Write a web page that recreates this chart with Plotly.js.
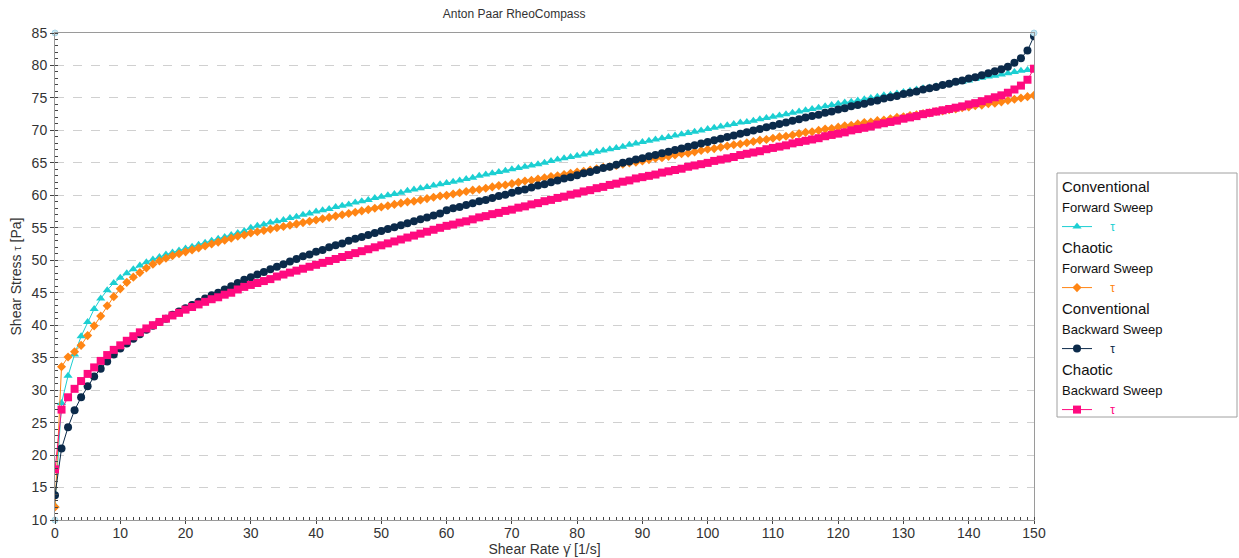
<!DOCTYPE html>
<html>
<head>
<meta charset="utf-8">
<script src="https://cdn.plot.ly/plotly-3.0.1.min.js"></script>
<style>html,body{margin:0;padding:0;background:#fff;}#chart{width:1239px;height:558px;}</style>
</head>
<body>
<div id="chart"></div>
<script>
// Shear rate (1/s), one point per unit from 0 to 150
const shearRate = [];
for (let i = 0; i <= 150; i++) shearRate.push(i);

const convForward = [
12.2,28.0,32.2,35.5,38.3,40.5,42.5,44.1,45.4,46.5,47.3,
48.0,48.6,49.2,49.7,50.1,50.5,50.9,51.2,51.5,51.8,
52.1,52.4,52.7,53.0,53.3,53.6,53.9,54.2,54.5,55.0,
55.3,55.5,55.8,56.0,56.2,56.5,56.7,57.0,57.2,57.5,
57.7,57.9,58.2,58.4,58.6,58.9,59.1,59.3,59.6,59.8,
60.0,60.2,60.4,60.7,60.9,61.1,61.3,61.5,61.7,61.9,
62.1,62.3,62.5,62.7,63.0,63.2,63.4,63.6,63.8,64.0,
64.2,64.4,64.6,64.8,65.0,65.3,65.5,65.7,65.9,66.1,
66.3,66.5,66.7,66.9,67.1,67.3,67.5,67.8,68.0,68.2,
68.4,68.6,68.8,69.0,69.2,69.4,69.6,69.8,70.0,70.2,
70.4,70.6,70.8,71.0,71.2,71.3,71.5,71.7,71.9,72.1,
72.3,72.5,72.7,72.9,73.1,73.3,73.5,73.7,73.9,74.1,
74.3,74.4,74.6,74.8,75.0,75.2,75.4,75.5,75.7,75.9,
76.1,76.3,76.5,76.6,76.8,77.0,77.2,77.4,77.5,77.7,
77.9,78.1,78.3,78.4,78.6,78.8,79.0,79.2,79.3,79.5];

const chaoForward = [
12.0,33.6,35.1,35.9,36.9,38.4,39.9,41.4,43.0,44.4,45.6,
46.6,47.4,48.1,48.8,49.4,49.9,50.3,50.7,51.0,51.3,
51.6,51.9,52.2,52.5,52.8,53.1,53.4,53.7,53.9,54.2,
54.4,54.6,54.8,55.0,55.2,55.4,55.6,55.8,56.0,56.2,
56.4,56.6,56.8,57.0,57.2,57.4,57.6,57.8,58.0,58.2,
58.4,58.6,58.8,59.0,59.1,59.3,59.5,59.7,59.9,60.0,
60.2,60.4,60.6,60.8,60.9,61.1,61.3,61.5,61.6,61.8,
62.0,62.2,62.3,62.5,62.7,62.9,63.0,63.2,63.4,63.6,
63.7,63.9,64.1,64.3,64.4,64.6,64.8,65.0,65.1,65.3,
65.5,65.7,65.8,66.0,66.2,66.4,66.5,66.7,66.9,67.1,
67.2,67.4,67.6,67.8,67.9,68.1,68.3,68.5,68.6,68.8,
69.0,69.1,69.3,69.5,69.7,69.8,70.0,70.2,70.3,70.5,
70.7,70.8,71.0,71.2,71.3,71.5,71.6,71.8,72.0,72.1,
72.3,72.4,72.6,72.7,72.9,73.0,73.2,73.3,73.5,73.6,
73.8,73.9,74.1,74.2,74.4,74.6,74.8,75.0,75.2,75.4];

const convBackward = [
13.8,21.0,24.3,26.9,28.9,30.6,32.1,33.3,34.4,35.5,36.4,
37.2,37.9,38.6,39.3,39.9,40.5,41.0,41.6,42.1,42.6,
43.1,43.6,44.1,44.6,45.0,45.5,46.0,46.5,47.0,47.4,
47.8,48.2,48.6,49.0,49.4,49.8,50.2,50.6,50.9,51.3,
51.6,52.0,52.3,52.6,53.0,53.3,53.6,53.9,54.2,54.5,
54.8,55.1,55.4,55.7,56.0,56.3,56.6,56.9,57.2,57.7,
58.0,58.2,58.5,58.8,59.1,59.3,59.6,59.9,60.1,60.4,
60.7,60.9,61.2,61.5,61.7,62.0,62.3,62.6,62.8,63.1,
63.4,63.6,63.9,64.2,64.4,64.7,65.0,65.2,65.5,65.7,
66.0,66.2,66.5,66.7,67.0,67.2,67.5,67.7,68.0,68.2,
68.5,68.7,69.0,69.2,69.5,69.7,70.0,70.2,70.5,70.7,
71.0,71.2,71.5,71.7,72.0,72.2,72.4,72.7,72.9,73.2,
73.4,73.7,73.9,74.1,74.4,74.6,74.9,75.1,75.3,75.6,
75.8,76.0,76.3,76.5,76.7,77.0,77.2,77.5,77.7,78.0,
78.2,78.5,78.8,79.1,79.4,79.8,80.4,81.1,82.3,84.5];

const chaoBackward = [
17.8,27.0,28.9,30.2,31.4,32.5,33.5,34.5,35.4,36.2,36.9,
37.6,38.3,38.9,39.5,40.0,40.5,41.0,41.5,41.9,42.4,
42.8,43.2,43.6,44.0,44.3,44.7,45.0,45.5,45.9,46.2,
46.5,46.8,47.1,47.5,47.8,48.1,48.4,48.7,49.0,49.3,
49.6,49.9,50.2,50.5,50.8,51.1,51.4,51.7,52.0,52.3,
52.6,52.9,53.2,53.5,53.8,54.1,54.4,54.7,55.0,55.3,
55.5,55.8,56.0,56.3,56.6,56.8,57.1,57.3,57.6,57.8,
58.1,58.3,58.6,58.8,59.1,59.3,59.6,59.8,60.1,60.3,
60.6,60.8,61.1,61.3,61.6,61.8,62.1,62.3,62.6,62.8,
63.0,63.2,63.5,63.7,63.9,64.1,64.4,64.6,64.8,65.0,
65.3,65.5,65.7,65.9,66.2,66.4,66.6,66.8,67.1,67.3,
67.5,67.7,68.0,68.2,68.4,68.6,68.8,69.1,69.3,69.5,
69.7,70.0,70.2,70.4,70.6,70.9,71.1,71.3,71.5,71.8,
72.0,72.2,72.5,72.7,72.9,73.1,73.3,73.5,73.7,74.0,
74.2,74.5,74.8,75.1,75.4,75.8,76.3,76.9,77.8,79.5];

const groupTitles = [
  ["Conventional", "Forward Sweep"],
  ["Chaotic", "Forward Sweep"],
  ["Conventional", "Backward Sweep"],
  ["Chaotic", "Backward Sweep"]
];
const seriesName = "τ";
const xTicks = [0,10,20,30,40,50,60,70,80,90,100,110,120,130,140,150];
const yTicks = [10,15,20,25,30,35,40,45,50,55,60,65,70,75,80,85];
const cornerX = [0, 150, 0];
const cornerY = [85, 85, 10];

const colors = ["#1ccfd2", "#ff8514", "#0b2a4a", "#ff0a7f"];
const symbols = ["triangle-up", "diamond", "circle", "square"];
const sizes = [8, 7, 8, 8];
const seriesData = [convForward, chaoForward, convBackward, chaoBackward];

const traces = seriesData.map((ys, i) => ({
  type: "scatter",
  mode: "lines+markers",
  x: shearRate,
  y: ys,
  name: '&nbsp;&nbsp;&nbsp;&nbsp;<span style="color:' + colors[i] + '">' + seriesName + '</span>',
  legendgroup: "g" + i,
  legendgrouptitle: {
    text: '<span style="font-size:15px">' + groupTitles[i][0] + '</span><br><span style="font-size:13px">' + groupTitles[i][1] + '</span>',
    font: {family: "Liberation Sans, Arial, sans-serif", size: 15, color: "#111"}
  },
  line: {color: colors[i], width: 1},
  marker: {color: colors[i], symbol: symbols[i], size: sizes[i], line: {width: 0}}
}));

traces.push({
  type: "scatter", mode: "markers", x: cornerX, y: cornerY,
  showlegend: false, hoverinfo: "skip", cliponaxis: false,
  marker: {color: "#c4e6f2", size: 6, line: {color: "#a8d4e6", width: 1}}
});

const font = "Liberation Sans, Arial, sans-serif";
const layout = {
  width: 1239, height: 558,
  margin: {l: 55, r: 205, t: 33, b: 38, autoexpand: false},
  paper_bgcolor: "#fff", plot_bgcolor: "#fff",
  font: {family: font, size: 14, color: "#333"},
  title: {text: "Anton Paar RheoCompass", x: 0.469, xanchor: "center", xref: "paper", y: 0.975, yanchor: "middle", font: {family: font, size: 12, color: "#333"}},
  xaxis: {
    range: [0, 150], tickvals: xTicks, ticktext: xTicks.map(String),
    showgrid: false, zeroline: false,
    showline: true, linecolor: "#9a9a9a", linewidth: 1, mirror: true,
    ticks: "outside", ticklen: 3, tickcolor: "#444",
    ticklabelstandoff: -3,
    minor: {dtick: 1, ticks: "inside", ticklen: 3, tickcolor: "#444", showgrid: false},
    tickfont: {family: font, size: 14, color: "#333"},
    title: {text: "Shear Rate γ̇ [1/s]", font: {family: font, size: 14, color: "#333"}, standoff: 0}
  },
  yaxis: {
    range: [10, 85], tickvals: yTicks, ticktext: yTicks.map(String),
    showgrid: true, gridcolor: "#d0d0d0", griddash: "dash", gridwidth: 1,
    zeroline: false,
    showline: true, linecolor: "#9a9a9a", linewidth: 1, mirror: true,
    ticks: "outside", ticklen: 4, tickcolor: "#444",
    minor: {dtick: 1, ticks: "inside", ticklen: 3, tickcolor: "#444", showgrid: false},
    tickfont: {family: font, size: 14, color: "#333"},
    title: {text: "Shear Stress <span style=\"font-size:11px\">τ</span> [Pa]", font: {family: font, size: 14, color: "#333"}, standoff: 6}
  },
  showlegend: true,
  legend: {
    x: 1.0235, y: 0.7185, xanchor: "left", yanchor: "top",
    bgcolor: "rgba(0,0,0,0)", borderwidth: 0,
    font: {family: font, size: 12, color: "#333"},
    tracegroupgap: 0, itemwidth: 30,
    groupclick: "toggleitem"
  },
  shapes: [{
    type: "rect", xref: "paper", yref: "paper",
    x0: (1057 - 55) / 979, x1: (1237 - 55) / 979,
    y0: (520 - 417) / 487, y1: (520 - 173) / 487,
    line: {color: "#a0a0a0", width: 1}, fillcolor: "rgba(0,0,0,0)", layer: "below"
  }]
};

Plotly.newPlot("chart", traces, layout, {displayModeBar: false, staticPlot: true});
</script>
</body>
</html>
